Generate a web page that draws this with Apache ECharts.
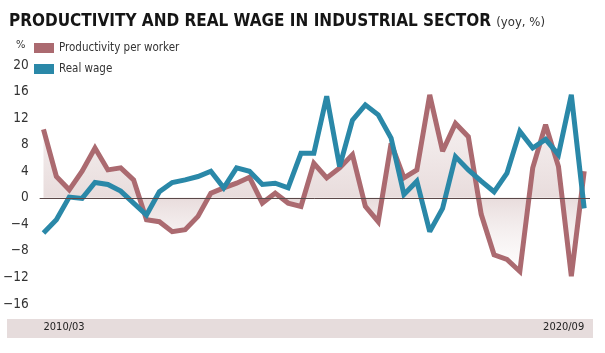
<!DOCTYPE html>
<html>
<head>
<meta charset="utf-8">
<script src="https://cdn.jsdelivr.net/npm/echarts@6/dist/echarts.min.js"></script>
<style>
html,body{margin:0;padding:0;background:#fff;}
#chart{width:605px;height:353px;}
</style>
</head>
<body>
<div id="chart"></div>
<script>
// Quarterly periods 2010/03 ... 2020/09
const categories = [
  '2010/03','2010/06','2010/09','2010/12','2011/03','2011/06','2011/09','2011/12',
  '2012/03','2012/06','2012/09','2012/12','2013/03','2013/06','2013/09','2013/12',
  '2014/03','2014/06','2014/09','2014/12','2015/03','2015/06','2015/09','2015/12',
  '2016/03','2016/06','2016/09','2016/12','2017/03','2017/06','2017/09','2017/12',
  '2018/03','2018/06','2018/09','2018/12','2019/03','2019/06','2019/09','2019/12',
  '2020/03','2020/06','2020/09'
];
const productivity = [
  10.3, 3.2, 1.2, 4.0, 7.5, 4.2, 4.5, 2.7,
  -3.3, -3.6, -5.1, -4.8, -2.8, 0.7, 1.5, 2.2,
  3.1, -0.8, 0.7, -0.8, -1.3, 5.2, 3.0, 4.5,
  6.5, -1.3, -3.6, 8.2, 3.0, 4.2, 15.5, 7.0,
  11.2, 9.2, -2.5, -8.6, -9.3, -11.1, 4.5, 11.0,
  4.7, -11.8, 4.0
];
const realWage = [
  -5.3, -3.3, 0.1, -0.1, 2.3, 2.0, 1.0, -0.8,
  -2.6, 0.9, 2.3, 2.7, 3.2, 4.0, 1.5, 4.5,
  4.0, 2.0, 2.2, 1.5, 6.7, 6.7, 15.3, 4.7,
  11.7, 14.0, 12.5, 9.0, 0.5, 2.5, -5.1, -1.6,
  6.2, 4.2, 2.5, 0.9, 3.7, 10.0, 7.5, 8.8,
  6.5, 15.5, -1.6
];
const yTicks = [-16, -12, -8, -4, 0, 4, 8, 12, 16, 20];
const xLabelIdx = [0, categories.length - 1];
const seriesNames = ['Productivity per worker', 'Real wage'];

const FONT = "'DejaVu Sans Condensed', 'Liberation Sans Narrow', sans-serif";
const RED = '#ab6a70';
const BLUE = '#2a88a8';

const chart = echarts.init(document.getElementById('chart'), null, {renderer: 'canvas'});
const pairs = arr => arr.map((v, i) => [i, v]);

chart.setOption({
  animation: false,
  backgroundColor: '#ffffff',
  title: {
    text: 'PRODUCTIVITY AND REAL WAGE IN INDUSTRIAL SECTOR {s|(yoy, %)}',
    left: 4, top: 8,
    textStyle: {
      fontFamily: FONT, fontWeight: 'bold', fontSize: 17, color: '#151515',
      rich: { s: { fontFamily: FONT, fontWeight: 'normal', fontSize: 13, color: '#333', padding: [2, 0, 0, 0] } }
    }
  },
  legend: {
    orient: 'vertical', left: 34, top: 42, padding: 0,
    itemWidth: 20, itemHeight: 10, itemGap: 9,
    icon: 'rect',
    textStyle: { fontFamily: FONT, fontSize: 11.5, color: '#333' },
    data: seriesNames
  },
  graphic: [{
    type: 'rect', z: -10,
    shape: { x: 7, y: 319, width: 586, height: 19 },
    style: { fill: '#e6dcdc' }
  }],
  grid: { left: 36, right: 15, top: 65, bottom: 49 },
  xAxis: {
    type: 'value', min: -0.3, max: 42.45,
    axisLine: { show: false }, axisTick: { show: false }, splitLine: { show: false },
    axisLabel: {
      customValues: xLabelIdx,
      formatter: v => categories[Math.round(v)],
      alignMinLabel: 'left', alignMaxLabel: 'right',
      margin: 18,
      fontFamily: FONT, fontSize: 11, color: '#222'
    }
  },
  yAxis: {
    type: 'value', min: -16, max: 20, interval: 4,
    name: '%', nameLocation: 'end', nameGap: 14,
    nameTextStyle: { fontFamily: FONT, fontSize: 11, color: '#333', align: 'right', padding: [0, 18, 0, 0] },
    axisLine: { show: false }, axisTick: { show: false }, splitLine: { show: false },
    axisLabel: { margin: 11, fontFamily: FONT, fontSize: 13.5, color: '#333',
      formatter: v => yTicks.includes(v) ? String(v).replace('-', '\u2212') : '' }
  },
  series: [
    {
      name: seriesNames[0], type: 'line', data: pairs(productivity),
      symbol: 'none', z: 2,
      lineStyle: { color: RED, width: 5, join: 'miter', miterLimit: 2.5 },
      itemStyle: { color: RED },
      areaStyle: {
        origin: 0,
        color: new echarts.graphic.LinearGradient(0, 0, 0, 1, [
          { offset: 0, color: 'rgba(235,225,225,0.5)' },
          { offset: 0.566, color: 'rgba(205,178,178,0.65)' },
          { offset: 1, color: 'rgba(240,232,232,0.1)' }
        ])
      },
      markLine: {
        silent: true, symbol: 'none', label: { show: false },
        lineStyle: { color: '#5a4848', width: 1, type: 'solid' },
        data: [{ yAxis: 0 }]
      }
    },
    {
      name: seriesNames[1], type: 'line', data: pairs(realWage),
      symbol: 'none', z: 3,
      lineStyle: { color: BLUE, width: 5, join: 'miter', miterLimit: 2.5 },
      itemStyle: { color: BLUE }
    }
  ]
});
</script>
</body>
</html>
